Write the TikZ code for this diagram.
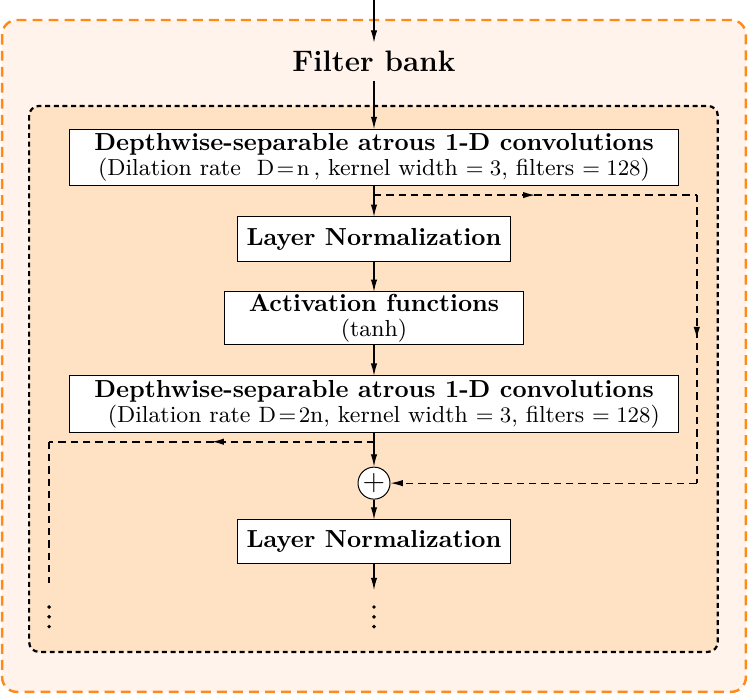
\documentclass[tikz,border=0pt]{standalone}
\usepackage{xcolor}
\usetikzlibrary{positioning, arrows.meta, calc, decorations.markings}
\definecolor{fborange}{HTML}{FF8A1A}
\definecolor{fbouter}{HTML}{FFF3EC}
\definecolor{fbinner}{HTML}{FFE1C4}
\newcommand{\fbsub}{\fontsize{9.4pt}{10pt}\selectfont}

\begin{document}
\begin{tikzpicture}[
  block/.style={
    rectangle, draw=black, fill=white, thin,
    inner xsep=2pt, inner ysep=1pt, outer sep=0pt, align=center
  },
  adder/.style={circle, draw=black, fill=white, thin, inner sep=0pt, minimum size=0.456cm},
  arr/.style={-{Latex[length=5pt, width=2.6pt]}, line width=0.5pt},
  skip/.style={line width=0.65pt, dash pattern=on 3pt off 2pt},
  midarr/.style={postaction={decorate}, decoration={markings,
    mark=at position 0.5 with {\arrow{Latex[length=5pt, width=2.6pt]}}}},
  dot/.style={circle, fill=black, inner sep=0pt, minimum size=1.6pt},
]
\useasboundingbox (-5.33,0) rectangle (5.33,-9.89);

% Frames
\draw[fborange, fill=fbouter, line width=1pt, dash pattern=on 4pt off 2.5pt, rounded corners=0.21cm]
  (-5.30,-0.285) rectangle (5.30,-9.86);
\draw[black, fill=fbinner, line width=0.9pt, dash pattern=on 2pt off 1.5pt, rounded corners=0.14cm]
  (-4.915,-1.51) rectangle (4.90,-9.29);

\coordinate (in) at (0,0);
\node[font=\large\bfseries] (fb) at (0,-0.88) {Filter bank};

% Main chain
\node[block, minimum width=8.68cm, minimum height=0.81cm] (conv1) at (0,-2.245)
  {\textbf{Depthwise-separable atrous 1-D convolutions}\\[-2pt]
   \fbsub(Dilation rate \ $\mathrm{D}\!=\!\mathrm{n}$\,, kernel width $=3$, filters $=128$)};
\node[block, font=\bfseries, minimum width=3.89cm, minimum height=0.63cm,
  below=0.44cm of conv1] (ln1) {Layer Normalization};
\node[block, minimum width=4.25cm, minimum height=0.755cm,
  below=0.44cm of ln1] (act) {\textbf{Activation functions}\\[-2pt]\fbsub(tanh)};
\node[block, minimum width=8.68cm, minimum height=0.81cm,
  below=0.44cm of act] (conv2)
  {\textbf{Depthwise-separable atrous 1-D convolutions}\\[-2pt]
   \fbsub\hspace*{0.28cm}(Dilation rate $\mathrm{D}\!=\!2$n, kernel width $=3$, filters $=128$)};
\node[adder, below=0.485cm of conv2] (sum) {\large$+$};
\node[block, font=\bfseries, minimum width=3.89cm, minimum height=0.63cm,
  below=0.285cm of sum] (ln2) {Layer Normalization};

\coordinate (out) at (0,-8.41);
\coordinate (skipA) at ($(conv1.south)+(0,-0.13)$);
\coordinate (skipAr) at (4.60,0 |- skipA);
\coordinate (skipAd) at (skipAr |- sum.east);
\coordinate (skipB) at ($(conv2.south)+(0,-0.13)$);
\coordinate (skipBl) at (-4.63,0 |- skipB);
\coordinate (skipBd) at (-4.63,-8.31);

% Continuation dots
\node[dot] (dc1) at (0,-8.65) {};
\node[dot] (dc2) at (0,-8.79) {};
\node[dot] (dc3) at (0,-8.93) {};
\node[dot] (dl1) at (-4.63,-8.65) {};
\node[dot] (dl2) at (-4.63,-8.79) {};
\node[dot] (dl3) at (-4.63,-8.93) {};

% Connections
\draw[arr] (in) -- (fb);
\draw[arr] (fb) -- (conv1);
\draw[arr] (conv1) -- (ln1);
\draw[arr] (ln1) -- (act);
\draw[arr] (act) -- (conv2);
\draw[arr] (conv2) -- (sum);
\draw[arr] (sum) -- (ln2);
\draw[arr] (ln2) -- (out);

% Residual paths
\draw[skip, midarr] (skipA) -- (skipAr);
\draw[skip, midarr] (skipAr) -- (skipAd);
\draw[skip, arr] (skipAd) -- (sum.east);
\draw[skip, midarr] (skipB) -- (skipBl);
\draw[skip] (skipBl) -- (skipBd);

\end{tikzpicture}
\end{document}
